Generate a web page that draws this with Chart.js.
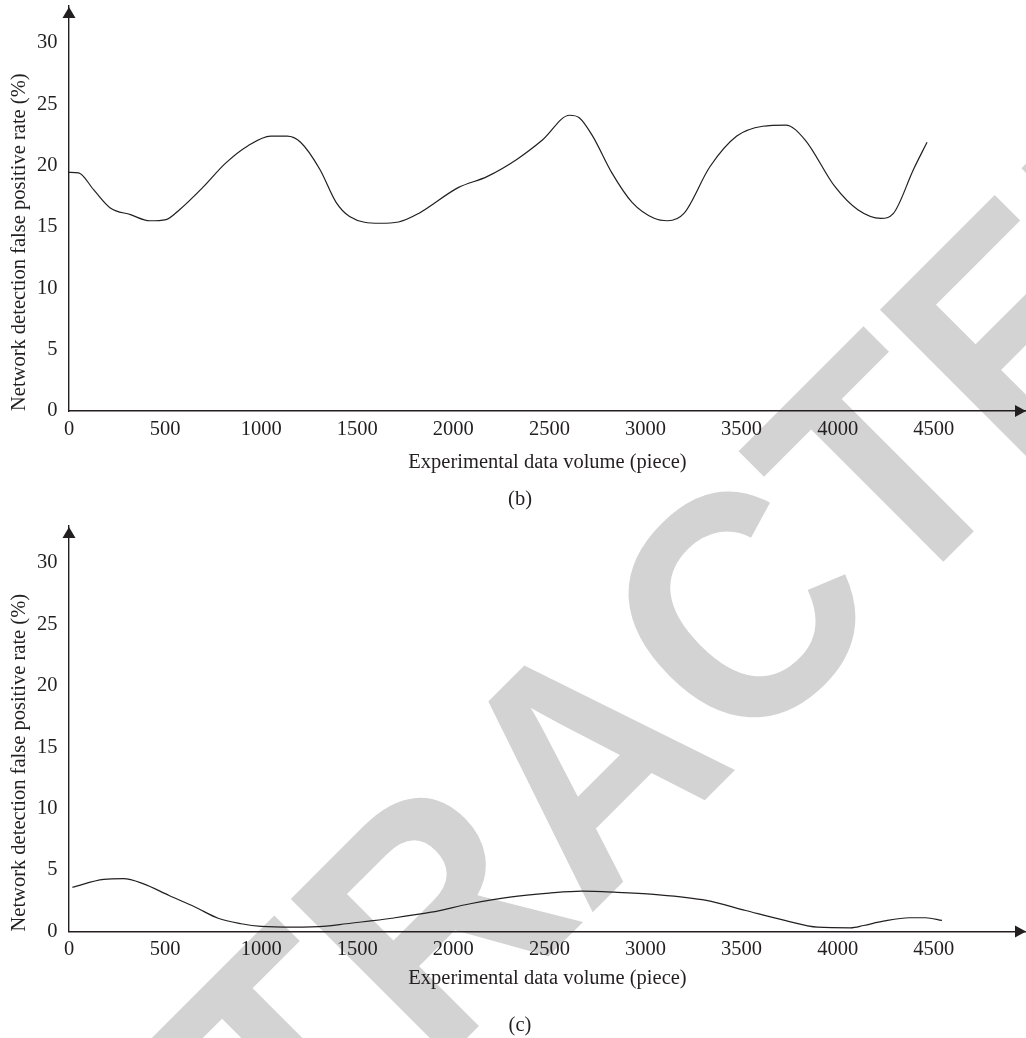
<!DOCTYPE html>
<html>
<head>
<meta charset="utf-8">
<script src="https://cdn.jsdelivr.net/npm/chart.js@4.4.1/dist/chart.umd.min.js"></script>
<style>
html,body{margin:0;padding:0;background:#fff;}
body{width:1026px;height:1038px;position:relative;overflow:hidden;}
#wm{position:absolute;left:0;top:0;}
.box{position:absolute;left:0;width:1026px;}
</style>
</head>
<body>
<svg id="wm" width="1026" height="1038"><text transform="translate(664,841) rotate(-45) scale(1,1.08)" text-anchor="middle" font-family="Liberation Sans, Arial, sans-serif" font-weight="bold" font-size="300" fill="#d3d3d3">RETRACTED</text></svg>
<div class="box" style="top:0;height:520px"><canvas id="cb"></canvas></div>
<div class="box" style="top:520px;height:518px"><canvas id="cc"></canvas></div>
<script>
// ---- data ----
const xTickVals = [0, 500, 1000, 1500, 2000, 2500, 3000, 3500, 4000, 4500];
const yTickVals = [0, 5, 10, 15, 20, 25, 30];

// panel (b)
const volumeB = [0,50,130,215,320,420,505,575,695,815,930,1050,1135,1205,1305,1390,1460,1615,1715,1820,2025,2175,2330,2465,2605,2655,2725,2825,2930,3045,3115,3200,3335,3475,3610,3730,3830,3985,4105,4225,4290,4395,4465];
const rateB = [19.45,19.4,18.0,16.55,16.0,15.5,15.6,16.4,18.2,20.2,21.6,22.4,22.4,21.9,19.7,17.0,15.85,15.3,15.4,16.1,18.2,19.1,20.5,22.1,24.1,23.9,22.4,19.4,17.0,15.7,15.5,16.1,19.9,22.4,23.2,23.3,22.1,18.3,16.4,15.7,16.1,19.7,21.9];

// panel (c)
const volumeC = [17,181,283,385,521,658,776,896,1000,1169,1338,1443,1679,1885,2088,2294,2498,2669,2839,3044,3317,3521,3725,3896,4068,4135,4237,4373,4458,4543];
const rateC = [3.6,4.24,4.3,3.9,2.93,1.98,1.08,0.63,0.41,0.35,0.43,0.63,1.08,1.57,2.26,2.8,3.12,3.28,3.2,3.02,2.53,1.71,0.9,0.35,0.3,0.49,0.84,1.12,1.12,0.9];

const xTitle = 'Experimental data volume (piece)';
const yTitle = 'Network detection false positive rate (%)';

// ---- styling ----
const FONT = {family: '"Liberation Serif", "Times New Roman", serif', size: 20.5, lineHeight: 1.2, weight: 'normal'};
const INK = '#231f20';

const arrows = {
  id: 'arrows',
  afterDraw(chart) {
    const {ctx, chartArea: a} = chart;
    ctx.save();
    ctx.fillStyle = INK;
    const xl = a.left;
    ctx.beginPath();
    ctx.moveTo(xl, a.top + 1);
    ctx.lineTo(xl - 6.5, a.top + 12);
    ctx.lineTo(xl + 6.5, a.top + 12);
    ctx.closePath();
    ctx.fill();
    const yb = a.bottom;
    ctx.beginPath();
    ctx.moveTo(a.right, yb);
    ctx.lineTo(a.right - 11, yb - 6);
    ctx.lineTo(a.right - 11, yb + 6);
    ctx.closePath();
    ctx.fill();
    ctx.restore();
  }
};

function noPad(s) { s.paddingTop = 0; s.paddingBottom = 0; s.paddingLeft = 0; s.paddingRight = 0; }

function makeChart(id, xs, ys, label, L) {
  return new Chart(document.getElementById(id), {
    type: 'line',
    data: {
      datasets: [{
        data: xs.map((x, i) => ({x: x, y: ys[i]})),
        borderColor: INK,
        borderWidth: 1.2,
        pointRadius: 0,
        fill: false,
        cubicInterpolationMode: 'monotone'
      }]
    },
    options: {
      responsive: true,
      maintainAspectRatio: false,
      animation: false,
      layout: {padding: {left: 14, right: 0, top: 6, bottom: L.padBottom}},
      plugins: {
        legend: {display: false},
        tooltip: {enabled: false},
        title: {
          display: true, position: 'bottom', text: label, color: INK,
          font: FONT, padding: {top: L.labelPad, bottom: 0}
        }
      },
      scales: {
        x: {
          type: 'linear', min: 0, max: 4980,
          afterBuildTicks: s => { s.ticks = xTickVals.map(v => ({value: v})); },
          afterFit: noPad,
          grid: {display: false, drawTicks: false},
          border: {display: true, color: INK, width: 1.4},
          ticks: {padding: L.xTickPad, color: INK, font: FONT, maxRotation: 0, autoSkip: false,
                  callback: v => String(v)},
          title: {display: true, text: xTitle, color: INK, font: FONT, padding: {top: L.xTitlePad, bottom: 0}}
        },
        y: {
          type: 'linear', min: 0, max: 33,
          afterBuildTicks: s => { s.ticks = yTickVals.map(v => ({value: v})); },
          afterFit: s => { s.width = 55; noPad(s); },
          grid: {display: false, drawTicks: false},
          border: {display: true, color: INK, width: 1.4},
          ticks: {padding: 11.5, color: INK, font: FONT, callback: v => String(v)},
          title: {display: true, text: yTitle, align: 'start', color: INK, font: FONT, padding: {top: -7.1, bottom: 0}}
        }
      }
    },
    plugins: [arrows]
  });
}

makeChart('cb', volumeB, rateB, '(b)', {padBottom: 7.7, labelPad: 12.4, xTickPad: 6.4, xTitlePad: 2.3});
makeChart('cc', volumeC, rateC, '(c)', {padBottom: 0.2, labelPad: 22.4, xTickPad: 5.4, xTitlePad: -0.7});
</script>
</body>
</html>
